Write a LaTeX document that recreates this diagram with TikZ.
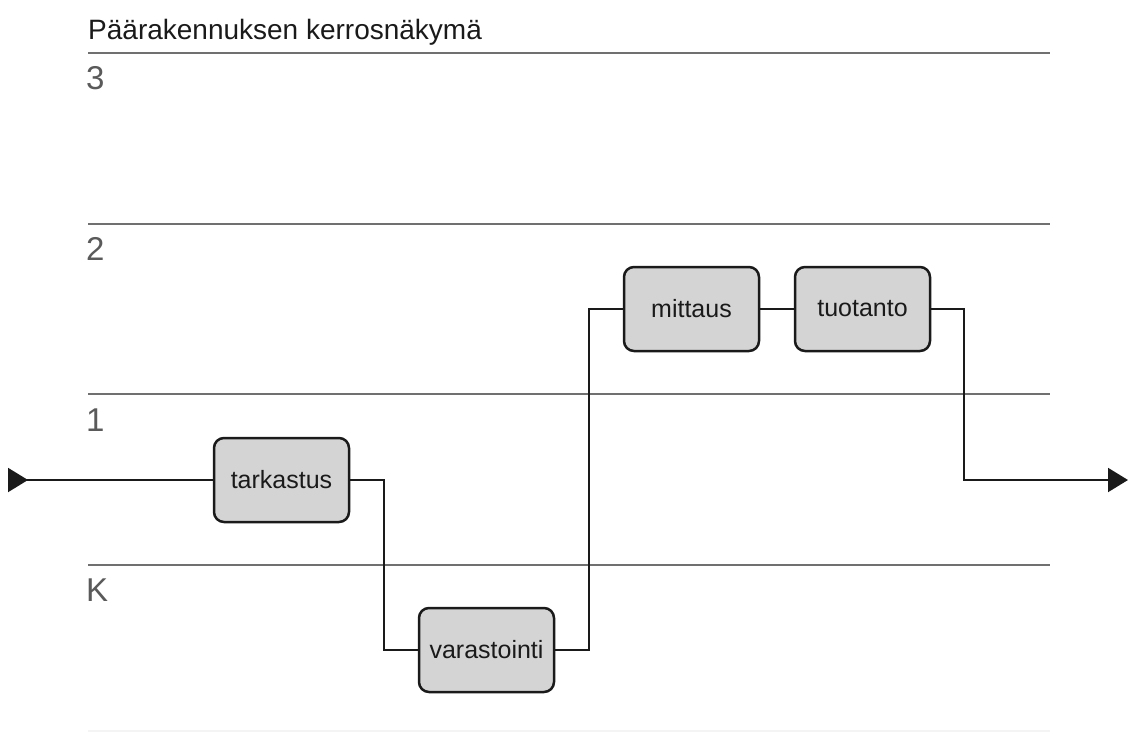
\documentclass[tikz,border=0pt]{standalone}
\usepackage{fontspec}
\setmainfont{Liberation Sans}
\usetikzlibrary{arrows.meta}
\definecolor{floorline}{HTML}{707070}
\definecolor{floorlabel}{HTML}{5A5A5A}
\definecolor{boxfill}{HTML}{D4D4D4}
\definecolor{ink}{HTML}{1A1A1A}
\begin{document}
\begin{tikzpicture}[x=1pt,y=-1pt,
  floor/.style={draw=floorline,line width=2pt},
  floortext/.style={anchor=base west,inner sep=0pt,text=floorlabel,
    font=\fontsize{33}{36}\selectfont},
  stepbox/.style={draw=ink,fill=boxfill,line width=2.5pt,rounded corners=10pt,
    minimum width=135pt,minimum height=84pt,inner sep=0pt,
    font=\fontsize{25}{30}\selectfont,text=ink},
  link/.style={draw=ink,line width=2pt},
  tip/.style={Triangle[length=20pt,width=24pt]}]
\useasboundingbox (0,0) rectangle (1128,734);

% title
\node[anchor=base west,inner sep=0pt,text=ink,font=\fontsize{28}{32}\selectfont]
  (title) at (88,39) {Päärakennuksen kerrosnäkymä};

% floor separators and floor names
\draw[floor] (88,53) -- (1050,53);
\draw[floor] (88,224) -- (1050,224);
\draw[floor] (88,394) -- (1050,394);
\draw[floor] (88,565) -- (1050,565);
\draw[draw=floorline!8,line width=2pt] (88,731) -- (1050,731);
\node[floortext] (f3) at (86,89) {3};
\node[floortext] (f2) at (86,260) {2};
\node[floortext] (f1) at (86,431) {1};
\node[floortext] (fk) at (86,601) {K};

% process steps
\node[stepbox] (tarkastus) at (281.5,480) {tarkastus};
\node[stepbox] (varastointi) at (486.5,650) {varastointi};
\node[stepbox] (mittaus) at (691.5,309) {mittaus};
\node[stepbox] (tuotanto) at (862.5,309) {tuotanto};

% flow
\coordinate (in) at (8,480);
\coordinate (out) at (1128,480);
\draw[link,{Triangle[reversed,length=20pt,width=24pt]}-] (in) -- (tarkastus.west);
\draw[link] (tarkastus.east) -- ++(34,0) |- (varastointi.west);
\draw[link] (varastointi.east) -- ++(34,0) |- (mittaus.west);
\draw[link] (mittaus.east) -- (tuotanto.east -| tuotanto.west);
\draw[link,-{Triangle[length=20pt,width=24pt]}] (tuotanto.east) -- ++(33,0) |- (out);
\end{tikzpicture}
\end{document}
